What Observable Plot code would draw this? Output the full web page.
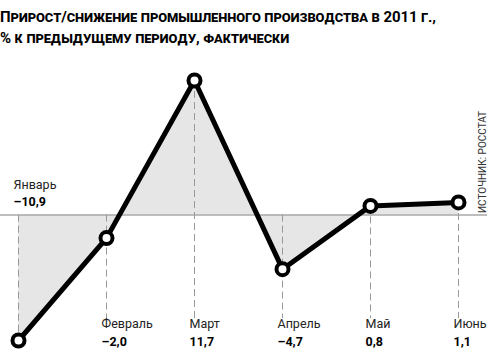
<!DOCTYPE html>
<html>
<head>
<meta charset="utf-8">
<script src="https://cdn.jsdelivr.net/npm/d3@7"></script>
<script src="https://cdn.jsdelivr.net/npm/@observablehq/plot@0.6"></script>
<style>
  html, body { margin: 0; padding: 0; background: #fff; }
  #title { font-family: Roboto, "Noto Sans", sans-serif; font-weight: 700; font-variant: small-caps;
           font-size: 15px; line-height: 21px; color: #000; height: 54px; box-sizing: border-box;
           padding-top: 7px; padding-left: 0; letter-spacing: -0.1px; }
  svg { display: block; }
</style>
</head>
<body>
<div id="title">Прирост/снижение промышленного производства в 2011 г.,<br>% к предыдущему периоду, фактически</div>
<div id="chart"></div>
<script>
const months = ["Январь", "Февраль", "Март", "Апрель", "Май", "Июнь"];
const values = [-10.9, -2.0, 11.7, -4.7, 0.8, 1.1];
const source = "ИСТОЧНИК: РОССТАТ";
const dashBottom = -9.0;

const data = months.map((m, i) => ({month: m, value: values[i]}));
const fmt = v => (v < 0 ? "\u2013" : "") + Math.abs(v).toFixed(1).replace(".", ",");
const first = data.slice(0, 1);
const rest = data.slice(1);
const font = "Roboto, 'Noto Sans', sans-serif";

const chart = Plot.plot({
  width: 500,
  height: 307,
  marginTop: 0, marginBottom: 0, marginLeft: 0, marginRight: 0,
  x: {type: "point", domain: months, range: [17, 459], padding: 0, axis: null},
  y: {domain: [-10.9, 11.7], range: [286, 26], axis: null},
  style: {fontFamily: font, background: "#fff"},
  marks: [
    Plot.areaY(data, {x: "month", y: "value", fill: "#e6e6e6"}),
    Plot.ruleY([0], {stroke: "#a8a8a8", strokeWidth: 1.5, insetRight: 13}),
    Plot.ruleX(first, {x: "month", y1: 0, y2: "value", stroke: "#999", strokeWidth: 1, strokeDasharray: "7,4"}),
    Plot.ruleX(rest, {x: "month", y1: d => Math.max(d.value, 0), y2: dashBottom, stroke: "#999", strokeWidth: 1, strokeDasharray: "7,4"}),
    Plot.line(data, {x: "month", y: "value", stroke: "#000", strokeWidth: 5, strokeLinejoin: "miter"}),
    Plot.dot(data, {x: "month", y: "value", r: 6, fill: "#fff", stroke: "#000", strokeWidth: 4}),
    // January label above the zero line
    Plot.text(first, {x: "month", y: 0, text: "month", dy: -30, dx: -5, textAnchor: "start", fontSize: 12.5, fill: "#222"}),
    Plot.text(first, {x: "month", y: 0, text: d => fmt(d.value), dy: -13, dx: -5, textAnchor: "start", fontSize: 12.5, fontWeight: "bold", fill: "#000"}),
    // other month labels at bottom
    Plot.text(rest, {x: "month", frameAnchor: "bottom", text: "month", dy: -34, dx: -5, textAnchor: "start", fontSize: 12.5, fill: "#222"}),
    Plot.text(rest, {x: "month", frameAnchor: "bottom", text: d => fmt(d.value), dy: -16, dx: -5, textAnchor: "start", fontSize: 12.5, fontWeight: "bold", fill: "#000"}),
    // source
    Plot.text([source], {frameAnchor: "right", dx: -18, dy: -46, rotate: -90, textAnchor: "middle", fontSize: 10, fill: "#333"})
  ]
});
document.getElementById("chart").appendChild(chart);
</script>
</body>
</html>
